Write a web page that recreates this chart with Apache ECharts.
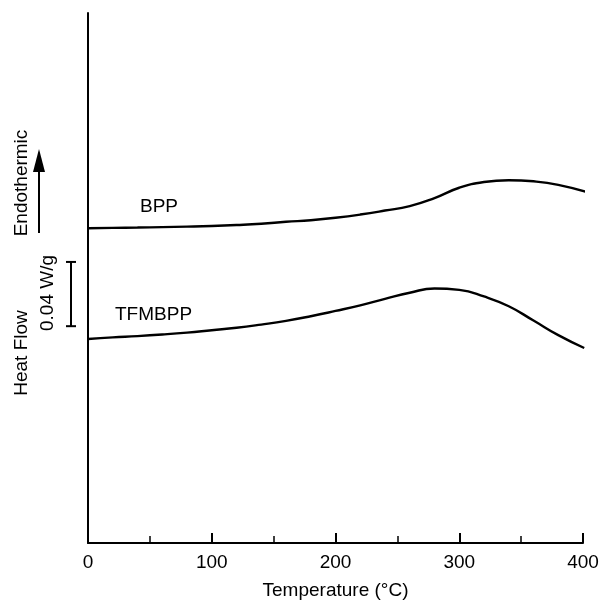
<!DOCTYPE html>
<html>
<head>
<meta charset="utf-8">
<script src="https://cdn.jsdelivr.net/npm/echarts@6/dist/echarts.min.js"></script>
<style>html,body{margin:0;padding:0;background:#fff}#c{width:602px;height:600px}</style>
</head>
<body>
<div id="c"></div>
<script>
// Temperature (°C) and relative heat flow (W/g, arbitrary offset)
var bppTemp = [0, 20, 40, 60, 80, 100, 120, 140, 160, 180, 200, 220, 240, 260, 280, 300, 320, 340, 360, 380, 406];
var bppFlow = [0.196, 0.1962, 0.1964, 0.1967, 0.197, 0.1974, 0.198, 0.1988, 0.2, 0.201, 0.2025, 0.2045, 0.207, 0.2098, 0.2148, 0.2212, 0.2248, 0.2259, 0.2252, 0.223, 0.2179];
var tfmTemp = [0, 20, 40, 60, 80, 100, 120, 140, 160, 180, 200, 220, 240, 260, 280, 300, 320, 340, 360, 380, 401];
var tfmFlow = [0.127, 0.128, 0.1288, 0.1298, 0.131, 0.1325, 0.134, 0.136, 0.1383, 0.1412, 0.1445, 0.148, 0.152, 0.1558, 0.1585, 0.1576, 0.1535, 0.1474, 0.1385, 0.1294, 0.1214];
var xTicks = [0, 100, 200, 300, 400];
var scaleBar = [0.135, 0.175]; // 0.04 W/g
var seriesNames = ['BPP', 'TFMBPP'];

function pairs(xs, ys) { return xs.map(function (x, i) { return [x, ys[i]]; }); }

var FONT = '"Liberation Sans", Arial, Helvetica, sans-serif';
var chart = echarts.init(document.getElementById('c'), null, {renderer: 'canvas'});
var option = {
  animation: false,
  backgroundColor: '#fff',
  textStyle: {fontFamily: FONT, color: '#000'},
  grid: {left: 88, right: 19, top: 13, bottom: 57, containLabel: false, outerBoundsMode: 'none'},
  xAxis: {
    type: 'value', min: xTicks[0], max: xTicks[xTicks.length - 1], interval: 100,
    name: 'Temperature (°C)', nameLocation: 'middle', nameGap: 38,
    nameTextStyle: {fontSize: 19, color: '#000', fontFamily: FONT},
    axisLine: {show: true, lineStyle: {color: '#000', width: 2}},
    axisTick: {show: true, inside: true, length: 10, lineStyle: {color: '#000', width: 2}},
    minorTick: {show: true, splitNumber: 2, length: 7, lineStyle: {color: '#000', width: 1.5}},
    axisLabel: {fontSize: 19, color: '#000', margin: 10, fontFamily: FONT},
    splitLine: {show: false}
  },
  yAxis: {
    type: 'value', min: 0, max: 0.33,
    axisLine: {show: true, lineStyle: {color: '#000', width: 2}},
    axisTick: {show: false}, axisLabel: {show: false}, splitLine: {show: false}
  },
  series: [
    {name: seriesNames[0], type: 'line', data: pairs(bppTemp, bppFlow), smooth: 0.5, showSymbol: false, clip: false,
     lineStyle: {color: '#000', width: 2.4}},
    {name: seriesNames[1], type: 'line', data: pairs(tfmTemp, tfmFlow), smooth: 0.5, showSymbol: false, clip: false,
     lineStyle: {color: '#000', width: 2.4}}
  ]
};
chart.setOption(option);

var yTop = chart.convertToPixel({yAxisIndex: 0}, scaleBar[1]);
var yBot = chart.convertToPixel({yAxisIndex: 0}, scaleBar[0]);
var bx = 71;
chart.setOption({
  graphic: [
    {type: 'text', x: 140, y: 207, style: {text: seriesNames[0], font: '19px ' + FONT, fill: '#000', verticalAlign: 'middle'}},
    {type: 'text', x: 115, y: 315, style: {text: seriesNames[1], font: '19px ' + FONT, fill: '#000', verticalAlign: 'middle'}},
    {type: 'text', x: 22, y: 353, rotation: Math.PI / 2, style: {text: 'Heat Flow', font: '19px ' + FONT, fill: '#000', align: 'center', verticalAlign: 'middle'}},
    {type: 'text', x: 22, y: 183, rotation: Math.PI / 2, style: {text: 'Endothermic', font: '19px ' + FONT, fill: '#000', align: 'center', verticalAlign: 'middle'}},
    {type: 'text', x: 48, y: 293, rotation: Math.PI / 2, style: {text: '0.04 W/g', font: '19px ' + FONT, fill: '#000', align: 'center', verticalAlign: 'middle'}},
    {type: 'line', shape: {x1: bx, y1: yTop, x2: bx, y2: yBot}, style: {stroke: '#000', lineWidth: 2}},
    {type: 'line', shape: {x1: bx - 5, y1: yTop, x2: bx + 5, y2: yTop}, style: {stroke: '#000', lineWidth: 2}},
    {type: 'line', shape: {x1: bx - 5, y1: yBot, x2: bx + 5, y2: yBot}, style: {stroke: '#000', lineWidth: 2}},
    {type: 'line', shape: {x1: 39, y1: 233, x2: 39, y2: 168}, style: {stroke: '#000', lineWidth: 2}},
    {type: 'polygon', shape: {points: [[39, 149], [33, 172], [45, 172]]}, style: {fill: '#000'}}
  ]
});
</script>
</body>
</html>
